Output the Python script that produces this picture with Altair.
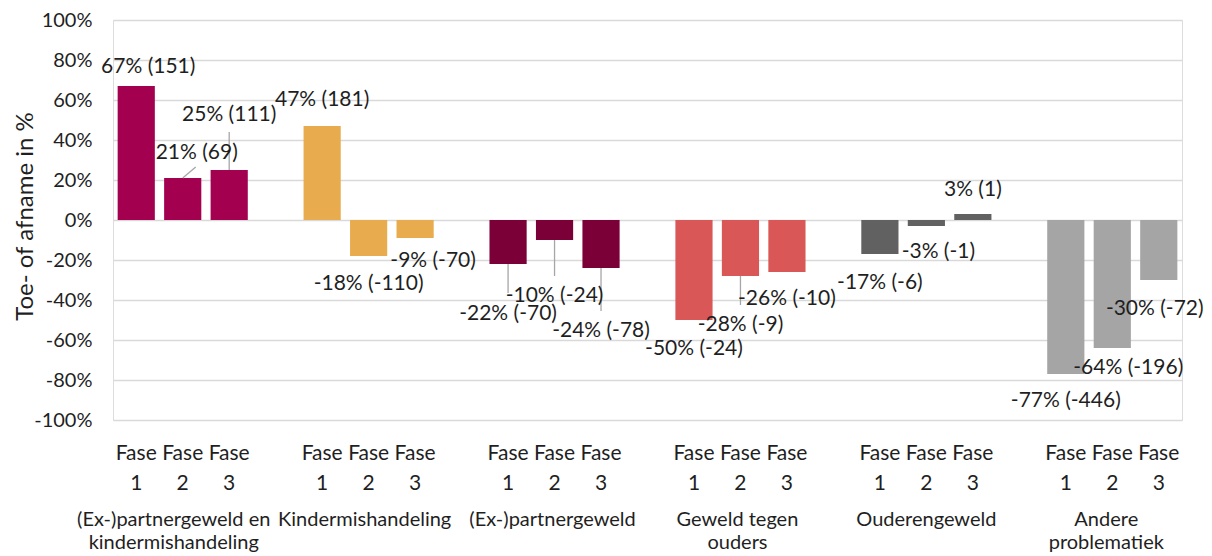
import altair as alt
import pandas as pd

# ---- data ----
groups = ["(Ex-)partnergeweld en\nkindermishandeling", "Kindermishandeling",
          "(Ex-)partnergeweld", "Geweld tegen\nouders", "Ouderengeweld",
          "Andere\nproblematiek"]
phases = ["1", "2", "3"]
pct_g1 = [67, 21, 25]
pct_g2 = [47, -18, -9]
pct_g3 = [-22, -10, -24]
pct_g4 = [-50, -28, -26]
pct_g5 = [-17, -3, 3]
pct_g6 = [-77, -64, -30]
cnt_g1 = [151, 69, 111]
cnt_g2 = [181, -110, -70]
cnt_g3 = [-70, -24, -78]
cnt_g4 = [-24, -9, -10]
cnt_g5 = [-6, -1, 1]
cnt_g6 = [-446, -196, -72]
y_ticks = [-100, -80, -60, -40, -20, 0, 20, 40, 60, 80, 100]

# ---- styling / layout ----
colors = ["#A3004F", "#E8AC4F", "#7A0037", "#D95757", "#616161", "#A5A5A5"]
FONT = "Lato"
TXT = "#1f1f1f"
W, H = 1069, 400
PI = 0.2
# manual data-label nudges (px) relative to the bar end, as placed in the original
label_dx = [[12, 14, 0], [0, 0, 18], [0, 0, 0], [0, 0, 0], [0, 12, 0], [0, 16, -4]]
label_dy = [[-19, -25, -55], [-26, 28, 23], [50, 56, 63], [29, 49, 27], [29, 26, -24], [27, 20, 29]]
# leader lines: (group, phase) -> (dx, dy) end point in px from bar end
leaders = {(0, 1): (13, -11), (0, 2): (0, -38), (2, 0): (0, 29), (2, 1): (0, 36),
           (2, 2): (0, 43), (3, 1): (0, 29)}
group_dx = [-9, -4, -2, -3, 0, -6]

pcts = [pct_g1, pct_g2, pct_g3, pct_g4, pct_g5, pct_g6]
cnts = [cnt_g1, cnt_g2, cnt_g3, cnt_g4, cnt_g5, cnt_g6]

cats = []
rows = []
for g in range(len(groups)):
    for p in range(3):
        key = f"g{g}_{phases[p]}"
        cats.append(key)
        rows.append(dict(cat=key, idx=len(cats) - 1, grp=f"g{g}", value=pcts[g][p],
                         label=f"{pcts[g][p]}% ({cnts[g][p]})",
                         dx=label_dx[g][p], dy=label_dy[g][p]))
    if g < len(groups) - 1:
        cats.append(f"gap{g}")
df = pd.DataFrame(rows)

step = W / len(cats)
pct_per_px = 200 / H
lrows = []
for (g, p), (ldx, ldy) in leaders.items():
    r = rows[g * 3 + p]
    lrows.append(dict(x=r["idx"] + 0.5, x2=r["idx"] + 0.5 + ldx / step,
                      y=r["value"], y2=r["value"] - ldy * pct_per_px))
ldf = pd.DataFrame(lrows)

grows = [dict(cat=f"g{g}_2", text=groups[g], dx=group_dx[g]) for g in range(len(groups))]
gdf = pd.DataFrame(grows)

xscale = alt.Scale(domain=cats, paddingInner=PI, paddingOuter=PI / 2)
yscale = alt.Scale(domain=[-100, 100], nice=False)

y_axis = alt.Axis(values=y_ticks, labelExpr="datum.value + '%'", domain=False,
                  ticks=False, grid=True, gridColor="#d9d9d9", gridWidth=1.5,
                  labelFont=FONT, labelFontSize=20, labelColor=TXT, labelPadding=21,
                  labelOverlap=False,
                  title="Toe- of afname in %", titleFont=FONT, titleFontSize=24,
                  titleFontWeight="normal", titleColor=TXT, titleX=-76, titleY=196)

bars = alt.Chart(df).mark_bar().encode(
    x=alt.X("cat:N", scale=xscale, sort=cats, title=None,
            axis=alt.Axis(labelExpr="indexof(datum.value,'gap')>=0 ? '' : ['Fase', slice(datum.value, -1)]",
                          labelAngle=0, domain=False, ticks=False, labelFont=FONT,
                          labelFontSize=21, labelColor=TXT, labelPadding=22,
                          labelLineHeight=30, labelBaseline="top", grid=False,
                          labelOverlap=False)),
    y=alt.Y("value:Q", scale=yscale, axis=y_axis),
    color=alt.Color("grp:N", scale=alt.Scale(domain=[f"g{i}" for i in range(6)], range=colors),
                    legend=None),
)

labels = alt.Chart(df).mark_text(font=FONT, fontSize=21, color=TXT, baseline="middle",
                                 dx=alt.expr("datum.dx"), dy=alt.expr("datum.dy")).encode(
    x=alt.X("cat:N", scale=xscale, sort=cats, axis=None),
    y=alt.Y("value:Q", scale=yscale, axis=y_axis),
    text="label:N",
)

glabels = alt.Chart(gdf).mark_text(font=FONT, fontSize=20, color=TXT, baseline="alphabetic",
                                   lineBreak="\n", lineHeight=23,
                                   dx=alt.expr("datum.dx")).encode(
    x=alt.X("cat:N", scale=xscale, sort=cats, axis=None),
    y=alt.value(506),
    text="text:N",
)

leader = alt.Chart(ldf).mark_rule(color="#a6a6a6", strokeWidth=1.3).encode(
    x=alt.X("x:Q", scale=alt.Scale(domain=[0, len(cats)], nice=False, zero=False), axis=None),
    x2="x2:Q",
    y=alt.Y("y:Q", scale=yscale, axis=y_axis),
    y2="y2:Q",
)

chart = alt.layer(bars, leader, labels, glabels).resolve_scale(x="independent").properties(
    width=W, height=H,
    autosize=alt.AutoSizeParams(type="none"),
    padding={"left": 105, "top": 12, "right": 22, "bottom": 136},
).configure_view(strokeWidth=0, stroke="transparent").configure(background="white")

chart.save("out.html", embed_options={"renderer": "svg", "actions": False})
